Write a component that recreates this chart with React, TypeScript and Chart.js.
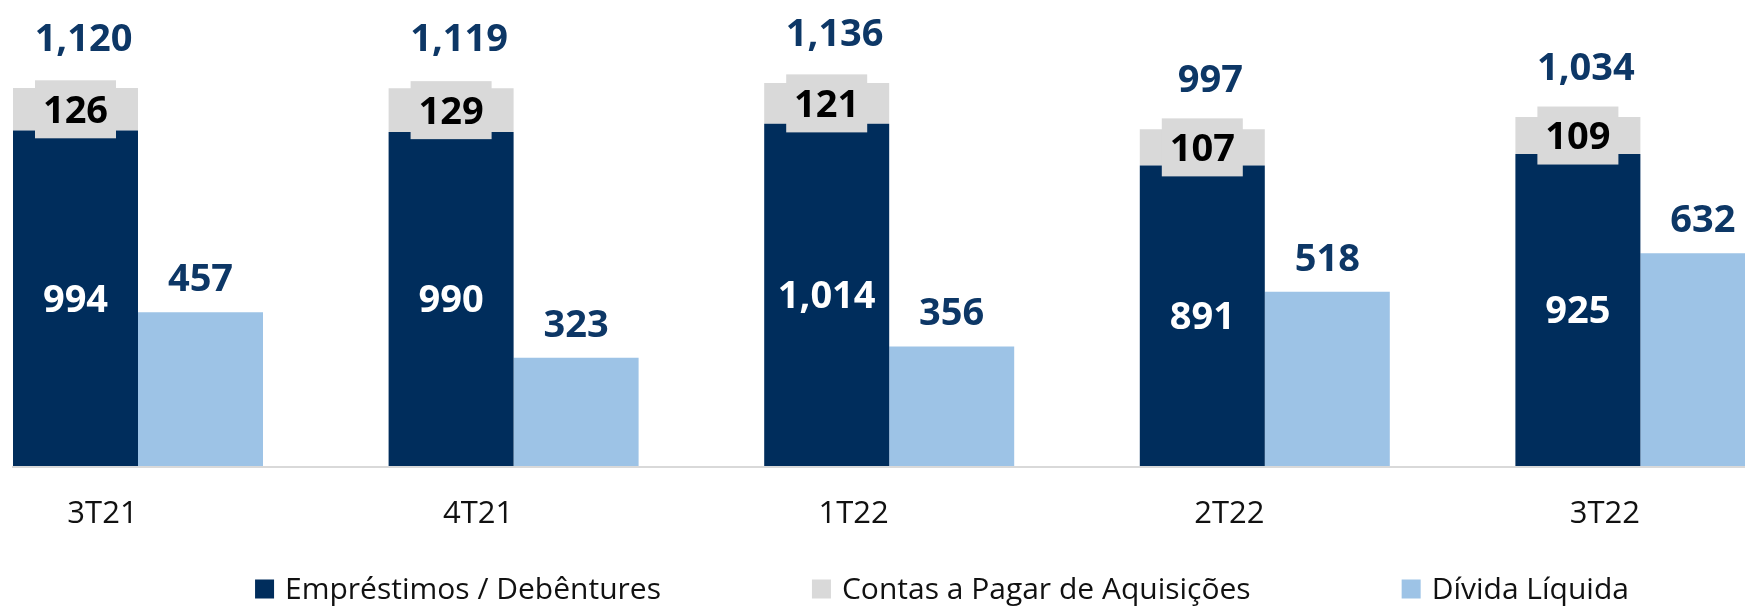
import React, { useEffect, useRef } from "react";
import { Chart, registerables } from "chart.js";

Chart.register(...registerables);

const categories = ["3T21", "4T21", "1T22", "2T22", "3T22"];
const emprestimos = [994, 990, 1014, 891, 925];
const contasPagar = [126, 129, 121, 107, 109];
const dividaLiquida = [457, 323, 356, 518, 632];
const totals = [1120, 1119, 1136, 997, 1034];

const seriesNames = ["Empréstimos / Debêntures", "Contas a Pagar de Aquisições", "Dívida Líquida"];

const NAVY = "#002D5C";
const GRAY = "#D9D9D9";
const LIGHT = "#9DC3E6";
const LABEL_NAVY = "#0D3766";
const FONT = "'Open Sans', 'Noto Sans', sans-serif";

const fmt = (v: number) => v.toLocaleString("en-US");

const labelsPlugin = {
  id: "barLabels",
  afterDatasetsDraw(chart: any) {
    const ctx = chart.ctx;
    ctx.save();
    ctx.textAlign = "center";
    ctx.textBaseline = "middle";
    ctx.font = `bold 38px ${FONT}`;
    const m0 = chart.getDatasetMeta(0);
    const m1 = chart.getDatasetMeta(1);
    const m2 = chart.getDatasetMeta(2);
    m0.data.forEach((bar: any, i: number) => {
      ctx.fillStyle = "#FFFFFF";
      ctx.fillText(fmt(emprestimos[i]), bar.x, (bar.y + bar.base) / 2 + 2);
    });
    m1.data.forEach((bar: any, i: number) => {
      const cy = (bar.y + bar.base) / 2;
      ctx.fillStyle = GRAY;
      ctx.fillRect(bar.x - 40.5, cy - 29, 81, 58);
      ctx.fillStyle = "#000000";
      ctx.fillText(fmt(contasPagar[i]), bar.x, cy + 3);
      ctx.fillStyle = LABEL_NAVY;
      ctx.fillText(fmt(totals[i]), bar.x + 8, bar.y - 48);
    });
    m2.data.forEach((bar: any, i: number) => {
      ctx.fillStyle = LABEL_NAVY;
      ctx.fillText(fmt(dividaLiquida[i]), bar.x, bar.y - 32);
    });
    ctx.restore();
  },
};

const legendPlugin = {
  id: "customLegend",
  afterDraw(chart: any) {
    const ctx = chart.ctx;
    const box = 19;
    const gapText = 11;
    const gapItems = 151;
    const centerX = 942;
    const centerY = 589;
    ctx.save();
    ctx.font = `30px ${FONT}`;
    ctx.textBaseline = "middle";
    ctx.textAlign = "left";
    const items = chart.data.datasets.map((ds: any) => ({
      text: ds.label as string,
      color: ds.backgroundColor as string,
    }));
    const widths = items.map((it: any) => box + gapText + ctx.measureText(it.text).width);
    const total = widths.reduce((a: number, b: number) => a + b, 0) + gapItems * (items.length - 1);
    let x = centerX - total / 2;
    items.forEach((it: any, i: number) => {
      ctx.fillStyle = it.color;
      ctx.fillRect(x, centerY - box / 2, box, box);
      ctx.fillStyle = "#111111";
      ctx.fillText(it.text, x + box + gapText, centerY + 1);
      x += widths[i] + gapItems;
    });
    ctx.restore();
  },
};

export default function App() {
  const canvasRef = useRef<HTMLCanvasElement | null>(null);

  useEffect(() => {
    if (!canvasRef.current) return;
    const chart = new Chart(canvasRef.current, {
      type: "bar",
      data: {
        datasets: [
          {
            label: seriesNames[0],
            data: emprestimos.map((v, i) => ({ x: i, y: v })),
            backgroundColor: NAVY,
            stack: "a",
          },
          {
            label: seriesNames[1],
            data: contasPagar.map((v, i) => ({ x: i, y: v })),
            backgroundColor: GRAY,
            stack: "a",
          },
          {
            label: seriesNames[2],
            data: dividaLiquida.map((v, i) => ({ x: i, y: v })),
            backgroundColor: LIGHT,
            stack: "b",
          },
        ],
      },
      options: {
        animation: false,
        responsive: false,
        events: [],
        layout: { padding: { left: 13, right: 0, top: 0, bottom: 59 } },
        datasets: {
          bar: { categoryPercentage: 0.6656, barPercentage: 1, borderWidth: 0 },
        },
        plugins: {
          legend: { display: false },
          tooltip: { enabled: false },
          title: { display: false },
        },
        scales: {
          x: {
            type: "linear",
            min: -0.3328,
            max: 4.2785,
            offset: false,
            grid: { display: false, drawTicks: false },
            border: { display: true, color: GRAY, width: 2, z: 1 },
            afterFit: (s: any) => {
              s.height = 80;
            },
            ticks: {
              stepSize: 1,
              includeBounds: false,
              autoSkip: false,
              maxRotation: 0,
              padding: 29,
              labelOffset: -35.5,
              color: "#111111",
              font: { family: FONT, size: 31 },
              callback: (v: any) => (categories[v as number] ?? ""),
            },
          },
          y: {
            display: false,
            stacked: true,
            min: 0,
            max: 1380,
          },
        },
      },
      plugins: [labelsPlugin, legendPlugin],
    } as any);
    return () => chart.destroy();
  }, []);

  return (
    <div style={{ position: "fixed", left: 0, top: 0, width: 1745, height: 606, background: "#fff" }}>
      <canvas ref={canvasRef} width={1745} height={606} style={{ display: "block" }} />
    </div>
  );
}
